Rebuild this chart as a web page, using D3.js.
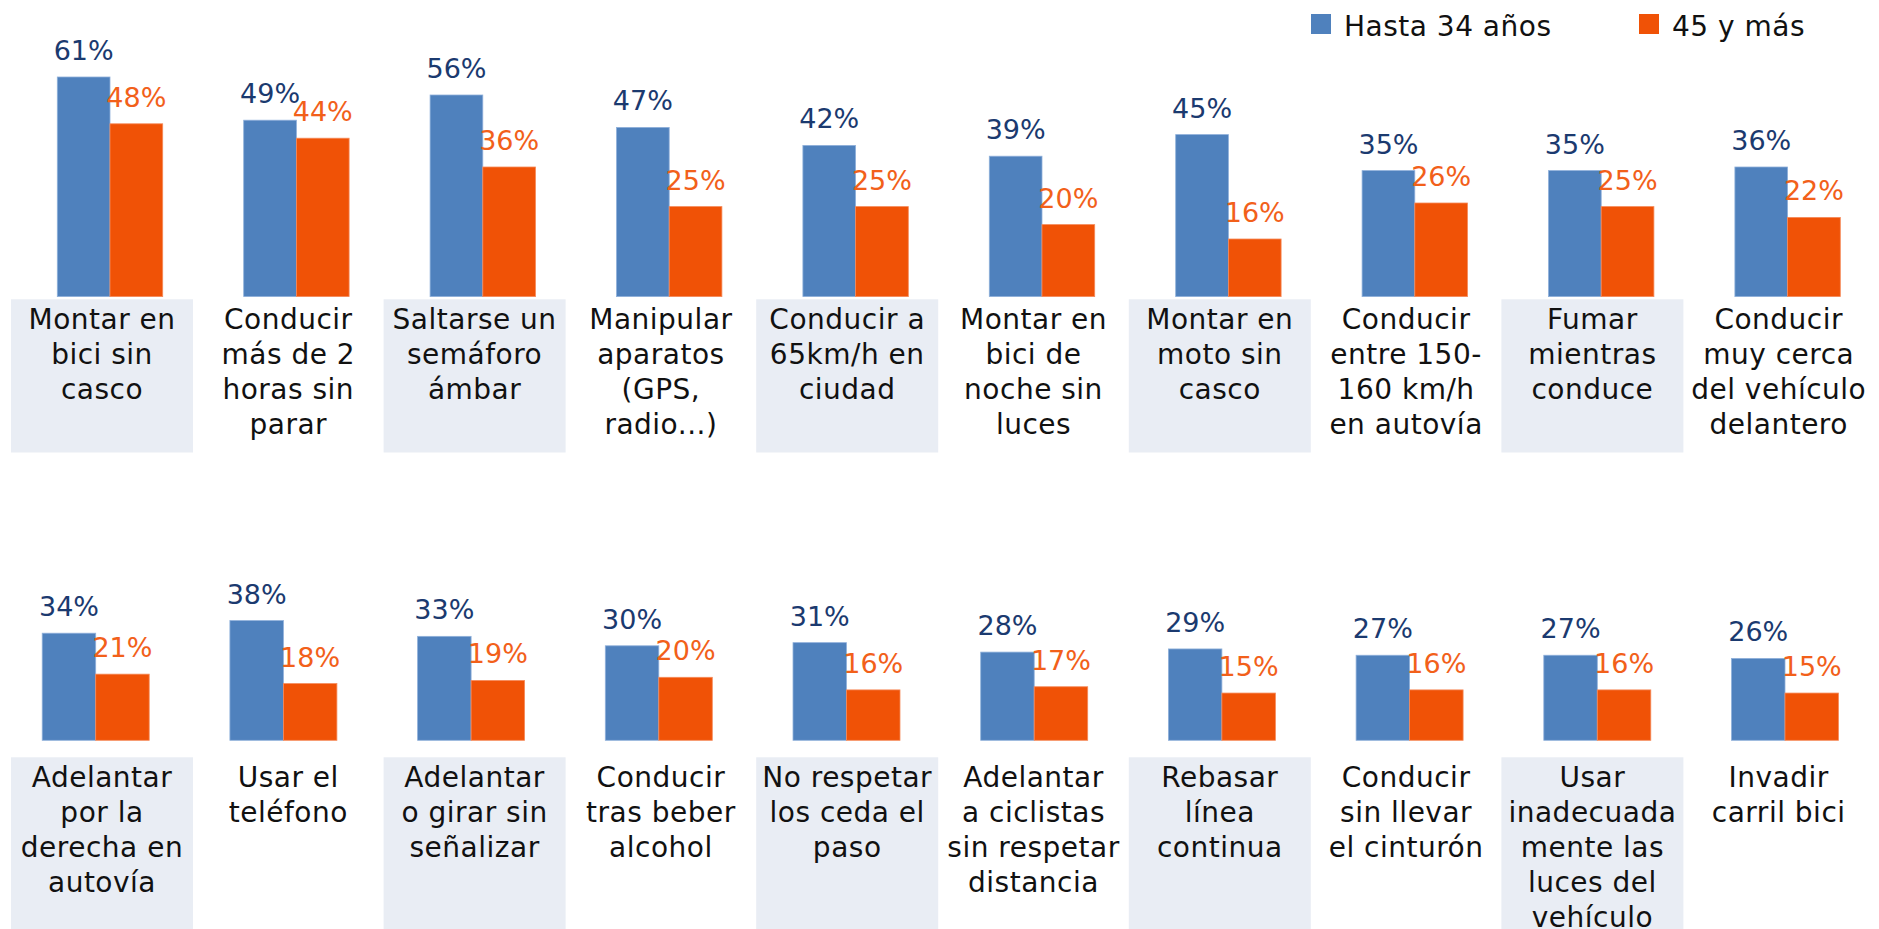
<!DOCTYPE html>
<html>
<head>
<meta charset="utf-8">
<script src="https://cdn.jsdelivr.net/npm/d3@7"></script>
<style>
  html, body { margin: 0; padding: 0; background: #fff; }
  svg { display: block; font-family: 'DejaVu Sans', sans-serif; }
</style>
</head>
<body>
<svg id="chart"></svg>
<script>
const series = ['Hasta 34 años', '45 y más'];

const topCategories = [
  ['Montar en', 'bici sin', 'casco'],
  ['Conducir', 'más de 2', 'horas sin', 'parar'],
  ['Saltarse un', 'semáforo', 'ámbar'],
  ['Manipular', 'aparatos', '(GPS,', 'radio...)'],
  ['Conducir a', '65km/h en', 'ciudad'],
  ['Montar en', 'bici de', 'noche sin', 'luces'],
  ['Montar en', 'moto sin', 'casco'],
  ['Conducir', 'entre 150-', '160 km/h', 'en autovía'],
  ['Fumar', 'mientras', 'conduce'],
  ['Conducir', 'muy cerca', 'del vehículo', 'delantero']
];
const topYoung = [61, 49, 56, 47, 42, 39, 45, 35, 35, 36];
const topOld = [48, 44, 36, 25, 25, 20, 16, 26, 25, 22];

const bottomCategories = [
  ['Adelantar', 'por la', 'derecha en', 'autovía'],
  ['Usar el', 'teléfono'],
  ['Adelantar', 'o girar sin', 'señalizar'],
  ['Conducir', 'tras beber', 'alcohol'],
  ['No respetar', 'los ceda el', 'paso'],
  ['Adelantar', 'a ciclistas', 'sin respetar', 'distancia'],
  ['Rebasar', 'línea', 'continua'],
  ['Conducir', 'sin llevar', 'el cinturón'],
  ['Usar', 'inadecuada', 'mente las', 'luces del', 'vehículo'],
  ['Invadir', 'carril bici']
];
const bottomYoung = [34, 38, 33, 30, 31, 28, 29, 27, 27, 26];
const bottomOld = [21, 18, 19, 20, 16, 17, 15, 16, 16, 15];

const width = 1879;
const height = 929;
const colors = ['#4f81bd', '#f05206'];
const labelColors = ['#1b3a6f', '#f2601a'];

const svg = d3.select('#chart')
  .attr('width', width)
  .attr('height', height);

// label boxes share one grid for both rows
const boxX = d3.scaleBand()
  .domain(d3.range(10))
  .range([8.85, 1871.85])
  .paddingInner(0.023)
  .paddingOuter(0.0115);

function drawRow(cfg) {
  const rows = cfg.categories.map((c, i) => ({
    i: i,
    lines: c,
    values: [cfg.young[i], cfg.old[i]]
  }));

  const x0 = d3.scaleBand()
    .domain(d3.range(rows.length))
    .range(cfg.xRange)
    .paddingInner(cfg.pad)
    .paddingOuter(cfg.pad / 2);

  const x1 = d3.scaleBand()
    .domain([0, 1])
    .range([0, x0.bandwidth()]);

  const y = d3.scaleLinear()
    .domain([0, 70])
    .range([cfg.base, cfg.base - 70 * cfg.pxPer]);

  const g = svg.append('g');

  // shaded label boxes
  g.selectAll('.box')
    .data(rows.filter(d => d.i % 2 === 0))
    .enter().append('rect')
    .attr('x', d => boxX(d.i))
    .attr('y', cfg.boxTop)
    .attr('width', boxX.bandwidth())
    .attr('height', cfg.boxH)
    .attr('fill', '#e9edf4');

  const groups = g.selectAll('.grp')
    .data(rows)
    .enter().append('g')
    .attr('transform', d => `translate(${x0(d.i)},0)`);

  groups.selectAll('rect')
    .data(d => d.values.map((v, k) => ({ k: k, v: v })))
    .enter().append('rect')
    .attr('x', d => x1(d.k))
    .attr('y', d => y(d.v))
    .attr('width', x1.bandwidth())
    .attr('height', d => y(0) - y(d.v))
    .attr('fill', d => colors[d.k])
    .attr('stroke', d => d.k === 0 ? '#8fb0da' : '#f58a5a')
    .attr('stroke-width', 0.8);

  groups.selectAll('text')
    .data(d => d.values.map((v, k) => ({ k: k, v: v })))
    .enter().append('text')
    .attr('x', d => x1(d.k) + x1.bandwidth() / 2)
    .attr('y', d => y(d.v) - 17)
    .attr('text-anchor', 'middle')
    .attr('font-size', 27)
    .attr('fill', d => labelColors[d.k])
    .text(d => d.v + '%');

  // category text
  const cat = g.selectAll('.cat')
    .data(rows)
    .enter().append('text')
    .attr('text-anchor', 'middle')
    .attr('font-size', 28)
    .attr('letter-spacing', 0.5)
    .attr('fill', '#111');

  cat.selectAll('tspan')
    .data(d => d.lines.map((l, j) => ({ l: l, j: j, i: d.i })))
    .enter().append('tspan')
    .attr('x', d => boxX(d.i) + boxX.bandwidth() / 2)
    .attr('y', d => cfg.boxTop + 30 + d.j * 35)
    .text(d => d.l);
}

drawRow({
  categories: topCategories, young: topYoung, old: topOld,
  xRange: [16.8, 1880.8], pad: 0.4345,
  base: 296.6, pxPer: 3.6,
  boxTop: 299.3, boxH: 153.2
});

drawRow({
  categories: bottomCategories, young: bottomYoung, old: bottomOld,
  xRange: [1.85, 1878.85], pad: 0.43,
  base: 740.3, pxPer: 3.15,
  boxTop: 757.3, boxH: 180
});

// legend
const legendX = [1311, 1639];
const legend = svg.append('g');
series.forEach((s, k) => {
  legend.append('rect')
    .attr('x', legendX[k])
    .attr('y', 14)
    .attr('width', 20)
    .attr('height', 20)
    .attr('fill', colors[k]);
  legend.append('text')
    .attr('x', legendX[k] + 33)
    .attr('y', 36)
    .attr('font-size', 28)
    .attr('letter-spacing', 0.5)
    .attr('fill', '#111')
    .text(s);
});
</script>
</body>
</html>
